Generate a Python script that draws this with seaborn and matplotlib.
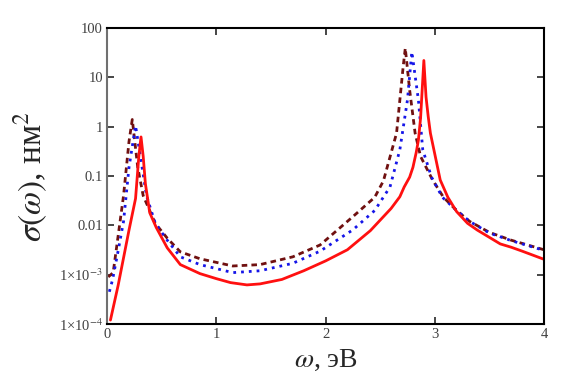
import numpy as np
import pandas as pd
import matplotlib
matplotlib.use("Agg")
import matplotlib.pyplot as plt
import seaborn as sns

# values (omega in eV, sigma in nm^2)
w_red = [0.03, 0.1, 0.2, 0.26, 0.29, 0.31, 0.33, 0.35, 0.39, 0.45, 0.55, 0.67, 0.85, 1.0, 1.13,
         1.28, 1.4, 1.6, 1.8, 2.0, 2.2, 2.41, 2.6, 2.68, 2.72, 2.77, 2.8, 2.83, 2.85, 2.87, 2.9,
         2.92, 2.94, 2.96, 3.05, 3.12, 3.2, 3.3, 3.39, 3.6, 3.7, 3.8, 4.0]
s_red = [1.2e-4, 6e-4, 8e-3, 0.035, 0.25, 0.62, 0.25, 0.07, 0.018, 0.009, 0.0035, 1.6e-3, 1.05e-3, 8.3e-4, 6.9e-4,
         6.2e-4, 6.5e-4, 8e-4, 1.2e-3, 1.9e-3, 3.2e-3, 7.8e-3, 0.022, 0.038, 0.06, 0.095, 0.15, 0.3, 0.53, 1.5, 22,
         4, 1.6, 0.74, 0.083, 0.037, 0.019, 0.011, 8e-3, 4.2e-3, 3.6e-3, 3e-3, 2.05e-3]

w_blue = [0.02, 0.05, 0.1, 0.15, 0.2, 0.26, 0.32, 0.36, 0.44, 0.55, 0.67, 0.85, 1.15, 1.4, 1.7,
          1.95, 2.25, 2.45, 2.59, 2.68, 2.75, 2.79, 2.85, 2.89, 2.97, 3.07, 3.2, 3.32, 3.5, 3.7, 4.0]
s_blue = [4.5e-4, 8e-4, 3e-3, 0.012, 0.15, 1.05, 0.15, 0.04, 0.011, 5e-3, 2.3e-3, 1.6e-3, 1.1e-3, 1.2e-3, 1.7e-3,
          3e-3, 8.1e-3, 0.02, 0.06, 0.34, 3.5, 33, 3.5, 0.34, 0.095, 0.037, 0.02, 0.012, 7e-3, 4.9e-3, 3.1e-3]

w_brown = [0.01, 0.055, 0.1, 0.15, 0.2, 0.23, 0.28, 0.33, 0.44, 0.55, 0.67, 0.85, 1.15, 1.4, 1.7,
           1.95, 2.25, 2.45, 2.53, 2.65, 2.71, 2.73, 2.77, 2.82, 2.87, 2.98, 3.08, 3.2, 3.32, 3.5, 3.7, 4.0]
s_brown = [9e-4, 1.1e-3, 6e-3, 0.04, 0.5, 1.4, 0.15, 0.04, 0.011, 5.5e-3, 2.9e-3, 2.1e-3, 1.5e-3, 1.6e-3, 2.3e-3,
           4e-3, 0.015, 0.037, 0.08, 0.74, 16, 39, 5.5, 0.74, 0.25, 0.083, 0.037, 0.02, 0.012, 7.2e-3, 5e-3, 3.2e-3]

y_ticks = [1e-4, 1e-3, 1e-2, 1e-1, 1, 10, 100]
y_tick_labels = [r"1×10$^{-4}$", r"1×10$^{-3}$", "0.01", "0.1", "1", "10", "100"]
x_ticks = [0, 1, 2, 3, 4]

sns.set_style("ticks")
plt.rcParams["font.family"] = ["Liberation Serif", "DejaVu Serif"]
plt.rcParams["mathtext.fontset"] = "stix"

fig = plt.figure(figsize=(5.64, 3.77), dpi=100)
ax = fig.add_axes([0.19, 0.1406, 0.7745, 0.785])

sns.lineplot(x=w_brown, y=s_brown, ax=ax, color="#701010", lw=2.0, sort=False,
             linestyle=(0, (2.0, 1.5)))
sns.lineplot(x=w_blue, y=s_blue, ax=ax, color="#1515e8", lw=2.0, sort=False,
             linestyle=(0, (1.0, 1.8)))
sns.lineplot(x=w_red, y=s_red, ax=ax, color="#ff1010", lw=2.0, sort=False)

ax.set_yscale("log")
ax.set_xlim(0, 4)
ax.set_ylim(1e-4, 100)
ax.set_yticks(y_ticks)
ax.set_yticklabels(y_tick_labels)
ax.set_xticks(x_ticks)
ax.minorticks_off()
ax.tick_params(direction="in", top=True, right=True, length=5, width=1.2,
               labelsize=10.5, labelcolor="#404040", pad=3)
ax.tick_params(axis="y", labelright=False)
ax.tick_params(axis="x", labeltop=False)
for side in ["top", "bottom", "right"]:
    ax.spines[side].set_color("black")
    ax.spines[side].set_linewidth(1.5)
ax.spines["left"].set_color("#707070")
ax.spines["left"].set_linewidth(1.5)

ax.set_xlabel(r"$\omega$, эВ", fontsize=20, labelpad=5)
ax.set_ylabel(r"$\sigma(\omega)$, нм$^2$", fontsize=24, labelpad=6)

fig.savefig("out.png", dpi=100)
